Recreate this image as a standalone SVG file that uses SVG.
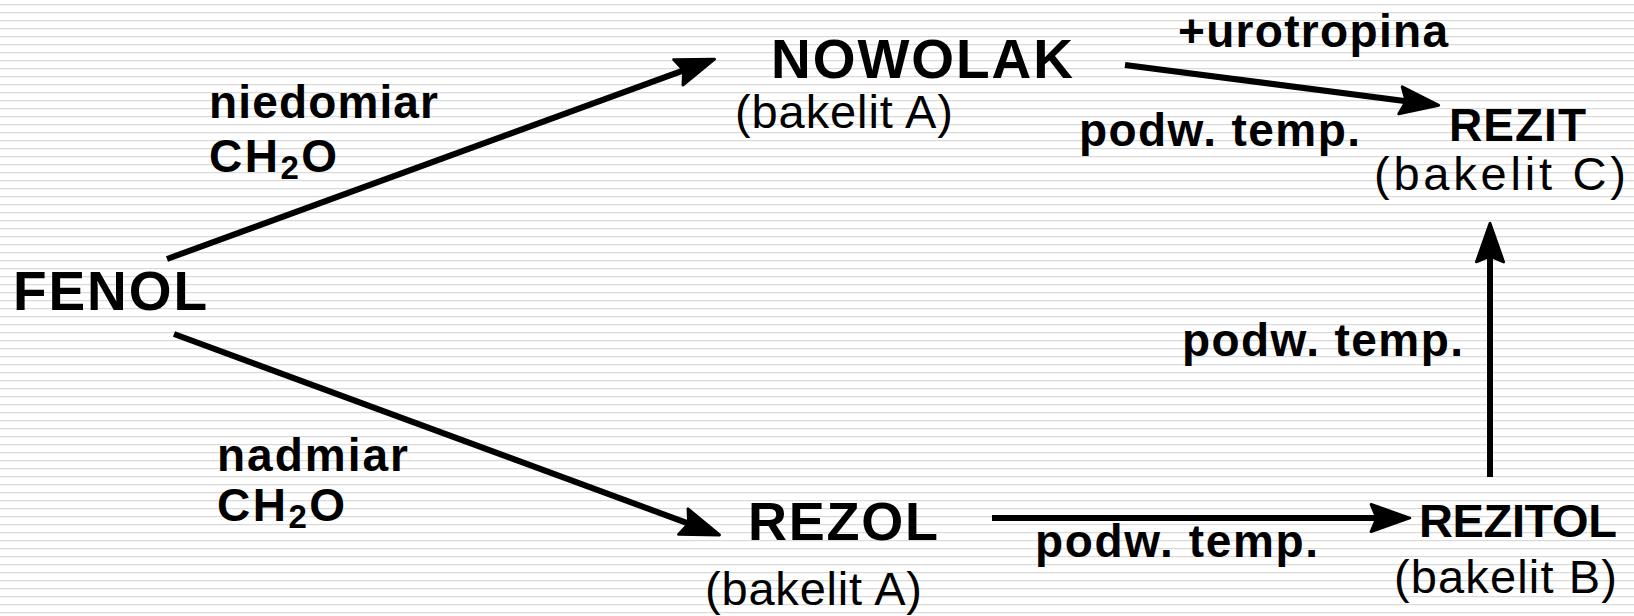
<svg xmlns="http://www.w3.org/2000/svg" width="1634" height="616" viewBox="0 0 1634 616">
<defs>
<pattern id="stripes" patternUnits="userSpaceOnUse" x="0" y="0" width="1634" height="8">
<rect x="0" y="4" width="1634" height="1.2" fill="#d9d9d9"/>
</pattern>
<marker id="ah" markerUnits="userSpaceOnUse" markerWidth="50" markerHeight="40" viewBox="-4 -16 44 32" refX="14" refY="0" orient="auto" overflow="visible">
<path d="M34,0 L0,-12 L5,0 L0,12 Z" fill="#000" stroke="#000" stroke-width="2.5" stroke-linejoin="round"/>
</marker>
<style>
.main{font-family:"Liberation Sans",Arial,sans-serif;font-weight:bold;fill:#000}
.lbl{font-family:"Liberation Sans",Arial,sans-serif;font-weight:bold;font-size:46px;fill:#000}
.sub{font-family:"Liberation Sans",Arial,sans-serif;font-size:47px;fill:#000}
.conn{stroke:#000;stroke-width:6;fill:none;marker-end:url(#ah)}
</style>
</defs>
<rect width="1634" height="616" fill="#ffffff"/>
<rect width="1634" height="616" fill="url(#stripes)"/>

<g id="connectors">
<line class="conn" x1="167" y1="259" x2="693.2" y2="66.9"/>
<line class="conn" x1="174" y1="334" x2="698.2" y2="527.1"/>
<line class="conn" x1="1125" y1="65" x2="1416.2" y2="102.4"/>
<line class="conn" x1="992" y1="518" x2="1387" y2="518"/>
<line class="conn" x1="1490" y1="477" x2="1490" y2="246"/>
</g>

<g id="labels">
<text class="lbl" x="209" y="118" textLength="229" lengthAdjust="spacing">niedomiar</text>
<text class="lbl" x="209" y="172" letter-spacing="2.5">CH<tspan font-size="33" dy="7">2</tspan><tspan dy="-7">O</tspan></text>
<text class="lbl" x="217" y="471" textLength="191" lengthAdjust="spacing">nadmiar</text>
<text class="lbl" x="217" y="521" letter-spacing="2.5">CH<tspan font-size="33" dy="7">2</tspan><tspan dy="-7">O</tspan></text>
<text class="lbl" x="1178" y="47" textLength="270" lengthAdjust="spacing">+urotropina</text>
<text class="lbl" x="1079" y="146" textLength="281" lengthAdjust="spacing">podw. temp.</text>
<text class="lbl" x="1182" y="356" textLength="281" lengthAdjust="spacing">podw. temp.</text>
<text class="lbl" x="1035" y="557" textLength="283" lengthAdjust="spacing">podw. temp.</text>
</g>

<g id="fenol">
<text class="main" x="13" y="310" font-size="55" textLength="194" lengthAdjust="spacing">FENOL</text>
</g>
<g id="nowolak">
<text class="main" x="771" y="78" font-size="55" textLength="302" lengthAdjust="spacing">NOWOLAK</text>
<text class="sub" x="735" y="128" textLength="218" lengthAdjust="spacing">(bakelit A)</text>
</g>
<g id="rezol">
<text class="main" x="748" y="540" font-size="54" textLength="190" lengthAdjust="spacing">REZOL</text>
<text class="sub" x="705" y="605" textLength="217" lengthAdjust="spacing">(bakelit A)</text>
</g>
<g id="rezit">
<text class="main" x="1449" y="141" font-size="46" textLength="137" lengthAdjust="spacing">REZIT</text>
<text class="sub" x="1374" y="190" font-size="49" textLength="252" lengthAdjust="spacing">(bakelit C)</text>
</g>
<g id="rezitol">
<text class="main" x="1419" y="537" font-size="47" textLength="198" lengthAdjust="spacing">REZITOL</text>
<text class="sub" x="1394" y="593" textLength="223" lengthAdjust="spacing">(bakelit B)</text>
</g>
</svg>
